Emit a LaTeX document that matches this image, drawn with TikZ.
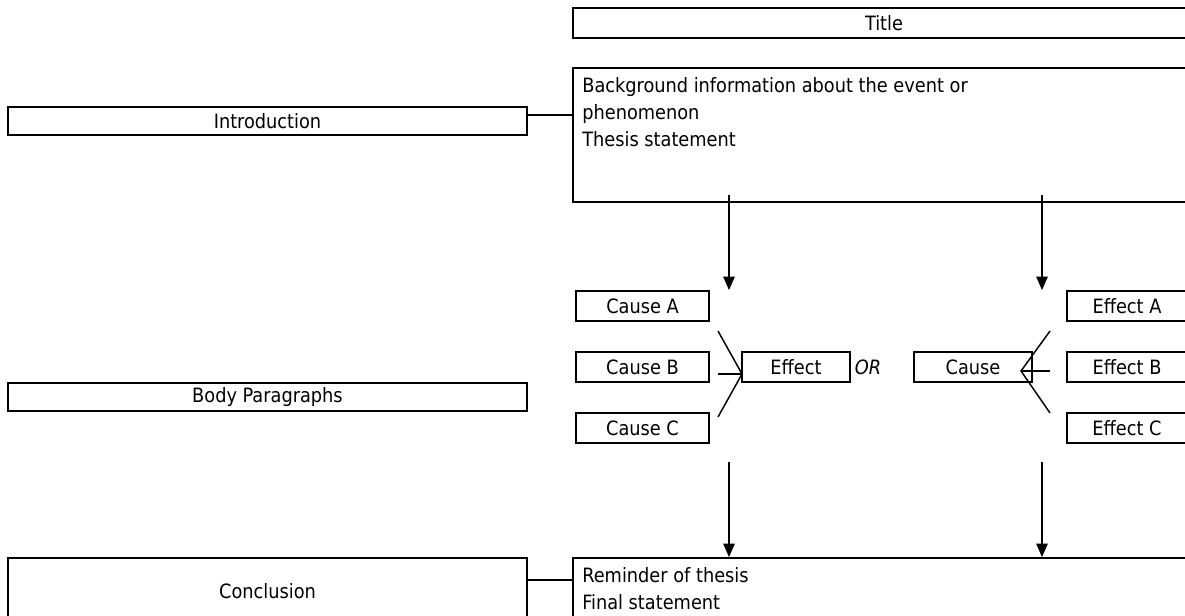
\documentclass[tikz,border=0pt]{standalone}
\usepackage{fontspec}
\setmainfont{DejaVu Sans Condensed}
\usetikzlibrary{arrows.meta,calc}
\newcommand{\mainfnt}{\fontsize{14.8}{20.25}\selectfont}
\begin{document}
\begin{tikzpicture}[x=0.75pt,y=-0.75pt,
  box/.style={draw,line width=1.4pt,inner sep=0pt,font=\mainfnt},
  txt/.style={inner sep=0pt,font=\mainfnt,align=left},
  conn/.style={line width=1.1pt},
  arr/.style={line width=1.1pt,-{Triangle[width=8.5pt,length=10pt]}}]
\useasboundingbox (0,0) rectangle (1185,616);
\clip (0,0) rectangle (1185,616);
% left column
\node[box,minimum width=389.25pt,minimum height=21pt] (intro) at (267.5,121) {Introduction};
\node[box,minimum width=389.25pt,minimum height=21pt] (body) at (267.5,397) {Body Paragraphs};
\node[box,minimum width=389.25pt,minimum height=50.25pt] (concl) at (267.5,591.5) {Conclusion};
% right column
\node[box,minimum width=466.5pt,minimum height=22.5pt] (title) at (884,23) {Title};
\node[box,minimum width=466.5pt,minimum height=100.5pt] (bg) at (884,135) {};
\node[txt,anchor=north west] (bgtext) at ([xshift=7.5pt,yshift=-7.5pt]bg.north west)
  {Background information about the event or\\phenomenon\\Thesis statement};
\node[box,minimum width=466.5pt,minimum height=50.25pt] (rem) at (884,591.5) {};
\node[txt,anchor=north west] (remtext) at ([xshift=7.5pt,yshift=-8pt]rem.north west)
  {Reminder of thesis\\Final statement};
% cause boxes
\node[box,minimum width=99.75pt,minimum height=22.5pt] (ca) at (642.5,306) {Cause A};
\node[box,minimum width=99.75pt,minimum height=22.5pt] (cb) at (642.5,367) {Cause B};
\node[box,minimum width=99.75pt,minimum height=22.5pt] (cc) at (642.5,428) {Cause C};
\node[box,minimum width=81pt,minimum height=22.5pt] (eff) at (796,367) {Effect};
\node[txt] (or) at (868,367) {\itshape OR};
\node[box,minimum width=88.5pt,minimum height=22.5pt] (cau) at (973,367) {Cause};
\node[box,minimum width=90pt,minimum height=22.5pt] (ea) at (1127,306) {Effect A};
\node[box,minimum width=90pt,minimum height=22.5pt] (eb) at (1127,367) {Effect B};
\node[box,minimum width=90pt,minimum height=22.5pt] (ec) at (1127,428) {Effect C};
% connectors
\coordinate (il) at ([yshift=4.5pt]intro.east);
\draw[conn] (il) -- (il -| bg.west);
\coordinate (cl) at ([yshift=8.6pt]concl.east);
\draw[conn] (cl) -- (cl -| rem.west);
% arrows
\coordinate (t1) at (729,195);
\coordinate (t2) at (1042,195);
\coordinate (b1) at (729,462);
\coordinate (b2) at (1042,462);
\draw[arr] (t1) -- (t1 |- ca.north);
\draw[arr] (t2) -- (t2 |- ea.north);
\draw[arr] (b1) -- (b1 |- rem.north);
\draw[arr] (b2) -- (b2 |- rem.north);
% fan lines
\coordinate (lv) at (742,374);
\coordinate (lu) at (718,331);
\coordinate (lm) at (718,374);
\coordinate (ld) at (718,417);
\draw[conn] (lu) -- (lv) -- (ld);
\draw[conn] (lm) -- (lv);
\coordinate (rv) at (1021,371);
\coordinate (ru) at (1050,331);
\coordinate (rm) at (1050,371);
\coordinate (rd) at (1050,413);
\draw[conn] (ru) -- (rv) -- (rd);
\draw[conn] (rm) -- (rv);
\end{tikzpicture}
\end{document}
